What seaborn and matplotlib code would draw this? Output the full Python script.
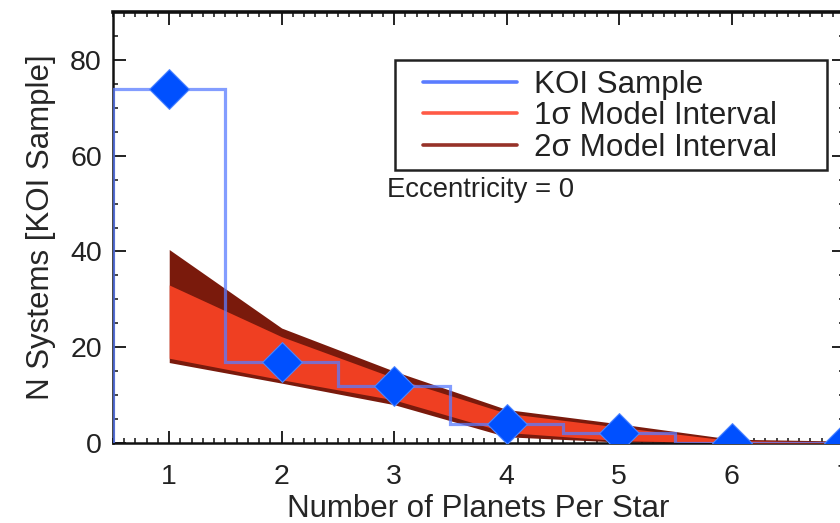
import numpy as np
import matplotlib
matplotlib.use("Agg")
import matplotlib.pyplot as plt
from matplotlib.lines import Line2D
from matplotlib.patches import Rectangle
from matplotlib.ticker import MultipleLocator
import seaborn as sns

# datos
n_planetas = np.array([1, 2, 3, 4, 5, 6, 7])
koi_muestra = np.array([74, 17, 12, 4, 2, 0, 0])

dos_sigma_alto = np.array([40.4, 24.0, 15.0, 7.0, 4.0, 0.8, 0.4])
uno_sigma_alto = np.array([33.0, 22.2, 13.6, 6.2, 3.3, 0.5, 0.2])
uno_sigma_bajo = np.array([17.7, 13.2, 9.0, 2.2, 0.5, 0.0, 0.0])
dos_sigma_bajo = np.array([16.8, 12.5, 8.0, 1.3, 0.2, 0.0, 0.0])

etiquetas = ["KOI Sample", "1\u03c3 Model Interval", "2\u03c3 Model Interval"]

sns.set_style("ticks")
plt.rcParams["font.family"] = ["Liberation Sans", "DejaVu Sans"]
plt.rcParams["text.color"] = "#222222"

AZUL_LINEA = "#5a7cff"
AZUL_PUNTO = "#0050ff"
ROJO = "#ef3f22"
ROJO_OSCURO = "#7a1a0c"

fig = plt.figure(figsize=(8.4, 5.23), dpi=100)
ax = fig.add_axes([113 / 840, 80 / 523, (844 - 113) / 840, (443 - 12) / 523])

# bandas del modelo
ax.fill_between(n_planetas, dos_sigma_bajo, dos_sigma_alto, color=ROJO_OSCURO, lw=0, zorder=2)
ax.fill_between(n_planetas, uno_sigma_bajo, uno_sigma_alto, color=ROJO, lw=0, zorder=3)

# histograma KOI en escalones
bordes = np.append(n_planetas - 0.5, n_planetas[-1] + 0.5)
ax.stairs(koi_muestra, bordes, color=AZUL_LINEA, lw=2.3, alpha=0.75, zorder=4, baseline=0)

# diamantes
sns.scatterplot(x=n_planetas, y=koi_muestra, marker="D", s=410, color=AZUL_PUNTO,
                edgecolor="#4f86ff", linewidth=0.8, zorder=5, ax=ax, legend=False)

ax.set_xlim(0.5, 7.0)
ax.set_ylim(0, 90)
ax.xaxis.set_major_locator(MultipleLocator(1))
ax.xaxis.set_minor_locator(MultipleLocator(0.1))
ax.yaxis.set_major_locator(MultipleLocator(20))
ax.yaxis.set_minor_locator(MultipleLocator(5))
ax.tick_params(which="both", direction="in", top=True, right=True, colors="#111111",
               labelcolor="#222222", labelsize=20.5)
ax.tick_params(which="major", length=9, width=1.3)
ax.tick_params(axis="x", which="major", pad=15)
ax.tick_params(axis="y", which="major", pad=8)
ax.tick_params(which="minor", length=3.5, width=1.1)
for lado in ax.spines.values():
    lado.set_linewidth(1.8)
    lado.set_color("#111111")
ax.spines["top"].set_linewidth(2.6)

ax.set_xlabel("Number of Planets Per Star", fontsize=22.5, labelpad=3)
ax.set_ylabel("N Systems [KOI Sample]", fontsize=22.5, labelpad=10)

ax.text(2.94, 52.9, "Eccentricity = 0", fontsize=19.8, va="center", ha="left")

# caja de la leyenda (mas ancha que su contenido, como en el original)
ax.add_patch(Rectangle((0.386, 0.633), 0.591, 0.256, transform=ax.transAxes,
                       fill=True, facecolor="white", edgecolor="#222222", lw=1.8, zorder=6))
manijas = [Line2D([], [], color="#5a7cff", lw=2.6),
           Line2D([], [], color="#ff5a46", lw=2.6),
           Line2D([], [], color="#963228", lw=2.6)]
ley = ax.legend(manijas, etiquetas, loc="upper left", bbox_to_anchor=(0.424, 0.866),
                fontsize=22.6, frameon=False, handlelength=3.0,
                handletextpad=0.55, labelspacing=0.055, borderpad=0, borderaxespad=0)
ley.set_zorder(7)

fig.savefig("out.png", dpi=100)
